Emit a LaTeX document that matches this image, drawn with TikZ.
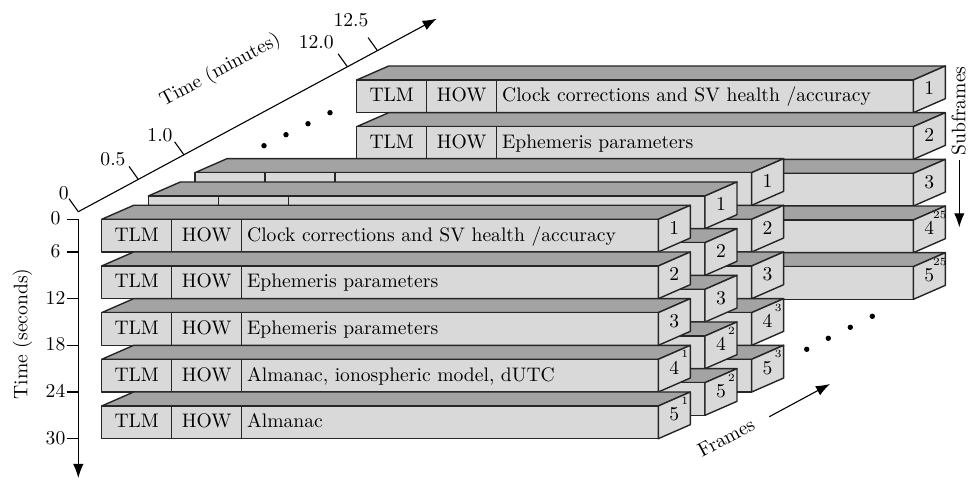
\documentclass[tikz,border=0pt]{standalone}
\usepackage{fontspec}
\usetikzlibrary{arrows.meta}
\definecolor{topgray}{gray}{0.64}
\definecolor{frontgray}{gray}{0.85}
\newcommand\BW{556.6}
\newcommand\BH{32.7}
\tikzset{
  topface/.style={fill=topgray,draw=black!85,line width=0.7pt,line join=round},
  frontface/.style={fill=frontgray,draw=black!85,line width=0.7pt,line join=round},
  divider/.style={draw=black!85,line width=0.7pt},
  lbl/.style={inner sep=0pt,text height=1.5ex,text depth=0.25ex,font=\fontsize{9.8}{11}\selectfont},
  suplbl/.style={inner sep=0pt,font=\fontsize{5.5}{6}\selectfont},
  axis/.style={line width=0.55pt,-{Latex[length=7pt,width=5.2pt]}},
  tick/.style={line width=0.55pt},
  dotmark/.style={fill=black,draw=none},
}
% #1 id, #2 x, #3 y, #4 number, #5 superscript, #6 TLM/HOW flag, #7 body
\newcommand\gpsbox[7]{%
\begin{scope}[shift={(#2,#3)}]
  \filldraw[topface] (0,0) -- (32,-14) -- (\BW+32,-14) -- (\BW,0) -- cycle;
  \filldraw[frontface] (0,0) rectangle (\BW,\BH);
  \draw[divider] (70,0) -- (70,\BH) (140,0) -- (140,\BH);
  \filldraw[frontface] (\BW,0) -- (\BW+32,-14) -- (\BW+32,\BH-14) -- (\BW,\BH) -- cycle;
  \node[lbl] (#1-num) at (\BW+16,\BH/2-7) {#4};
  \if\relax\detokenize{#5}\relax\else
    \node[suplbl] (#1-sup) at (\BW+26.5,-5) {#5};
  \fi
  \if\relax\detokenize{#6}\relax\else
    \node[lbl] (#1-tlm) at (35,\BH/2) {TLM};
    \node[lbl] (#1-how) at (105,\BH/2) {HOW};
  \fi
  \if\relax\detokenize{#7}\relax\else
    \node[lbl,anchor=west] (#1-body) at (145,\BH/2) {#7};
  \fi
\end{scope}}

\begin{document}
\begin{tikzpicture}[x=0.5pt,y=-0.5pt]
\useasboundingbox (0,0) rectangle (969,480);

% ---- frame 25 (far stack)
\gpsbox{a1}{356.7}{80}{1}{}{x}{Clock corrections and SV health /accuracy}
\gpsbox{a2}{356.7}{126.67}{2}{}{x}{Ephemeris parameters}
\gpsbox{a3}{356.7}{173.34}{3}{}{}{}
\gpsbox{a4}{356.7}{220.01}{4}{25}{}{}
\gpsbox{a5}{356.7}{266.68}{5}{25}{}{}

% ---- frame 3
\gpsbox{c1}{195.04}{172.64}{1}{}{}{}
\gpsbox{c2}{195.04}{219.31}{2}{}{}{}
\gpsbox{c3}{195.04}{265.98}{3}{}{}{}
\gpsbox{c4}{195.04}{312.65}{4}{3}{}{}
\gpsbox{c5}{195.04}{359.32}{5}{3}{}{}

% ---- frame 2
\gpsbox{b1}{148.37}{195.97}{1}{}{}{}
\gpsbox{b2}{148.37}{242.64}{2}{}{}{}
\gpsbox{b3}{148.37}{289.31}{3}{}{}{}
\gpsbox{b4}{148.37}{335.98}{4}{2}{}{}
\gpsbox{b5}{148.37}{382.65}{5}{2}{}{}

% ---- frame 1
\gpsbox{f1}{101.7}{219.3}{1}{}{x}{Clock corrections and SV health /accuracy}
\gpsbox{f2}{101.7}{265.97}{2}{}{x}{Ephemeris parameters}
\gpsbox{f3}{101.7}{312.64}{3}{}{x}{Ephemeris parameters}
\gpsbox{f4}{101.7}{359.31}{4}{1}{x}{Almanac, ionospheric model, dUTC}
\gpsbox{f5}{101.7}{405.98}{5}{1}{x}{Almanac}

% ---- minutes axis
\coordinate (mo) at (78.3,211.7);
\coordinate (mtip) at (436.7,18.7);
\draw[axis] (mo) -- (mtip);
\coordinate (m05) at (138.3,179.4);
\coordinate (m10) at (183.9,154.8);
\coordinate (m120) at (347.4,66.8);
\coordinate (m125) at (377.4,50.6);
\foreach \p in {mo,m05,m10,m120,m125}
  \draw[tick] (\p) -- ++(-9.3,-13);
\node[lbl] (lm0) at (63.8,193.7) {0};
\node[lbl] (lm05) at (113,160) {0.5};
\node[lbl] (lm10) at (160,136) {1.0};
\node[lbl] (lm120) at (316.3,43) {12.0};
\node[lbl] (lm125) at (351,21) {12.5};
\node[lbl,rotate=28.3] (tmin) at (220,70) {Time (minutes)};

% ---- seconds axis
\coordinate (so) at (78.3,219.3);
\coordinate (stip) at (78.3,478);
\draw[axis] (so) -- (stip);
\foreach \yy/\t in {219.3/0,252/6,298.67/12,345.34/18,392.01/24,438.68/30}{
  \draw[tick] (66.7,\yy) -- (78.3,\yy);
  \node[lbl] (ls\t) at (55.5,\yy) {\t};
}
\node[lbl,rotate=90] (tsec) at (22,334) {Time (seconds)};

% ---- subframes
\node[lbl,rotate=90] (tsub) at (960,111) {Subframes};
\coordinate (sa) at (959.3,160);
\coordinate (sb) at (959.3,227.3);
\draw[axis] (sa) -- (sb);

% ---- frames
\node[lbl,rotate=28.3] (tfr) at (726.7,438.3) {Frames};
\coordinate (fa) at (769.3,416.7);
\coordinate (fb) at (830,384);
\draw[axis] (fa) -- (fb);

% ---- dots
\foreach \x/\y in {264/145.7,286/134.7,308/123.7,330/112.7,806.7/349.3,828.3/338.3,850.3/327.3,872.3/316.3}
  \fill[dotmark] (\x,\y) circle[radius=2.7];
\end{tikzpicture}
\end{document}
